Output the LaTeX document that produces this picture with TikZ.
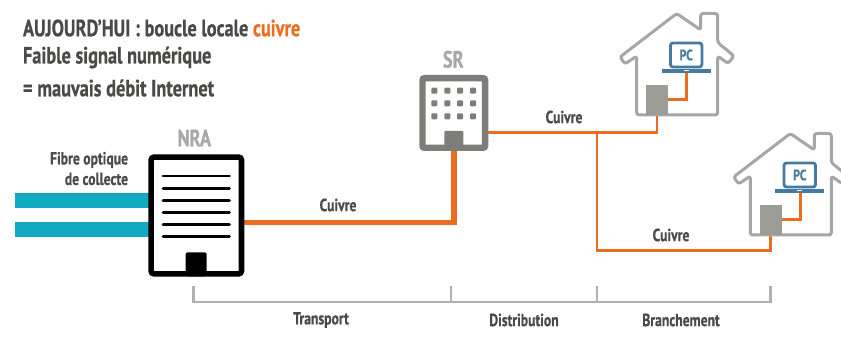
\documentclass[tikz,border=0pt]{standalone}
\usepackage{fontspec}
\setmainfont[FakeStretch=0.78,BoldFont={PT Sans Bold},BoldFeatures={FakeBold=0.6}]{PT Sans}
\usetikzlibrary{calc,backgrounds}
\definecolor{cuivre}{HTML}{EE6C1F}
\definecolor{fibre}{HTML}{12A9C2}
\definecolor{txt}{HTML}{4A4A49}
\definecolor{lbl}{HTML}{A8A8A8}
\definecolor{srgray}{HTML}{7D7D7A}
\definecolor{boxgray}{HTML}{9D9D97}
\definecolor{housegray}{HTML}{A6A6A6}
\definecolor{bracket}{HTML}{B0B0B0}
\definecolor{pcblue}{HTML}{457BA0}
\tikzset{
  x=1pt,y=-1pt,
  every node/.style={inner sep=0pt,outer sep=0pt},
  txtlabel/.style={text=txt,font=\bfseries\fontsize{17.5}{17.5}\selectfont,anchor=center},
  titleline/.style={text=txt,font=\bfseries\fontsize{23.5}{23.5}\selectfont,anchor=west},
  eqlabel/.style={text=lbl,font=\bfseries\fontsize{23.5}{23.5}\selectfont,anchor=center},
  thickwire/.style={draw=cuivre,line width=5.4pt},
  thinwire/.style={draw=cuivre,line width=2.9pt},
  fibrewire/.style={draw=fibre,line width=15pt},
  nrabox/.style={draw=black,line width=5.6pt,rounded corners=3pt,fill=white,minimum width=90.4pt,minimum height=116.8pt},
  nradoor/.style={fill=black,rounded corners=2pt,minimum width=21pt,minimum height=24pt},
  srbox/.style={draw=srgray,line width=6.4pt,rounded corners=2pt,fill=white,minimum width=62.6pt,minimum height=69.6pt},
  srdoor/.style={fill=srgray,rounded corners=1pt,minimum width=19pt,minimum height=20pt},
  win/.style={fill=srgray,rounded corners=1pt,minimum width=6pt,minimum height=6pt},
  nraline/.style={draw=black,line width=2.8pt,line cap=round},
  bracketline/.style={draw=bracket,line width=2.6pt},
  pics/house/.style={code={
    \draw[housegray,line width=3pt,rounded corners=2.5pt,line join=round]
      (636.7,56) -- (625,64) -- (620,57) -- (676.7,13.5) -- (700.7,30) -- (700.7,13.5)
      -- (717.7,13.5) -- (717.7,42.5) -- (734,56) -- (728,63.5) -- (717.7,56) -- (717.7,115)
      -- (636.7,115) -- cycle;
    \node[fill=boxgray,minimum width=22pt,minimum height=30.5pt] (-box) at (657,100) {};
    \node[draw=pcblue,line width=2.8pt,rounded corners=2.5pt,minimum width=31.5pt,minimum height=24pt,
      text=pcblue,font=\bfseries\fontsize{15}{15}\selectfont] (-screen) at (686.2,55) {PC};
    \node[fill=pcblue,minimum width=49pt,minimum height=4.2pt] (-base) at (686.2,71) {};
    \node[fill=white,minimum width=5pt,minimum height=1pt] (-notch) at (686.2,71) {};
    \coordinate (-bend) at (686.5,99.3);
    \draw[thinwire] (-box.east |- -bend) -- (-bend) -- (-bend |- -base.south);
  }},
}
\begin{document}
\begin{tikzpicture}
\useasboundingbox (0,0) rectangle (841,347);
% title
\node[titleline] (t1) at (23,28) {AUJOURD’HUI : boucle locale \textcolor{cuivre}{cuivre}};
\node[titleline] (t2) at (23,57.5) {Faible signal numérique};
\node[titleline] (t3) at (23,88) {= mauvais débit Internet};
% NRA
\node[nrabox] (nra) at (196.3,215.5) {};
\node[nradoor] (nradoorn) at (196.2,264.3) {};
\foreach \y in {176,188.3,200.3,212.3,224.3,236.3}
  \draw[nraline] (163,\y) -- (229.5,\y);
\node[eqlabel] (nralbl) at (194.3,138) {NRA};
\node[txtlabel,align=right,anchor=north east] (fibrelbl) at (128,152) {Fibre optique\\[3pt]de collecte};
\coordinate (f1) at (15,200.8);
\coordinate (f2) at (15,229.2);
\begin{pgfonlayer}{background}
\draw[fibrewire] (f1) -- (f1 -| nra.west);
\draw[fibrewire] (f2) -- (f2 -| nra.west);
\end{pgfonlayer}
% SR
\node[srbox] (sr) at (453.8,113) {};
\node[srdoor] (srdoorn) at (453.8,141) {};
\foreach \x in {434.3,447.3,460,473}
  \foreach \y in {90.7,103.3,116.3}
    \node[win] at (\x,\y) {};
\node[eqlabel] (srlbl) at (453.3,59.3) {SR};
% houses
\pic (h1) at (0,0) {house};
\pic (h2) at (113.6,120) {house};
% wires
\coordinate (c1) at (453.8,222.5);
\coordinate (j1) at (597,132.3);
\coordinate (j2) at (597,250.5);
\begin{pgfonlayer}{background}
\draw[thickwire] (nra.east |- c1) -- (c1) -- (srdoorn.south);
\draw[thinwire] (sr.east |- j1) -- (j1 -| h1-box.south) -- (h1-box.south);
\draw[thinwire] (j1) -- (j2) -- (j2 -| h2-box.south) -- (h2-box.south);
\end{pgfonlayer}
\node[txtlabel] (cu1) at (338,205) {Cuivre};
\node[txtlabel] (cu2) at (564,117) {Cuivre};
\node[txtlabel] (cu3) at (671,235) {Cuivre};
% bracket
\coordinate (b1) at (193.5,286);
\coordinate (b2) at (451,286);
\coordinate (b3) at (597,286);
\coordinate (b4) at (770.5,286);
\coordinate (by) at (0,302);
\draw[bracketline] (b1) -- (b1 |- by) -- (b4 |- by) -- (b4);
\draw[bracketline] (b2) -- (b2 |- by);
\draw[bracketline] (b3) -- (b3 |- by);
\node[txtlabel] (l1) at (321,320) {Transport};
\node[txtlabel] (l2) at (524,320) {Distribution};
\node[txtlabel] (l3) at (681,320) {Branchement};
\end{tikzpicture}
\end{document}
